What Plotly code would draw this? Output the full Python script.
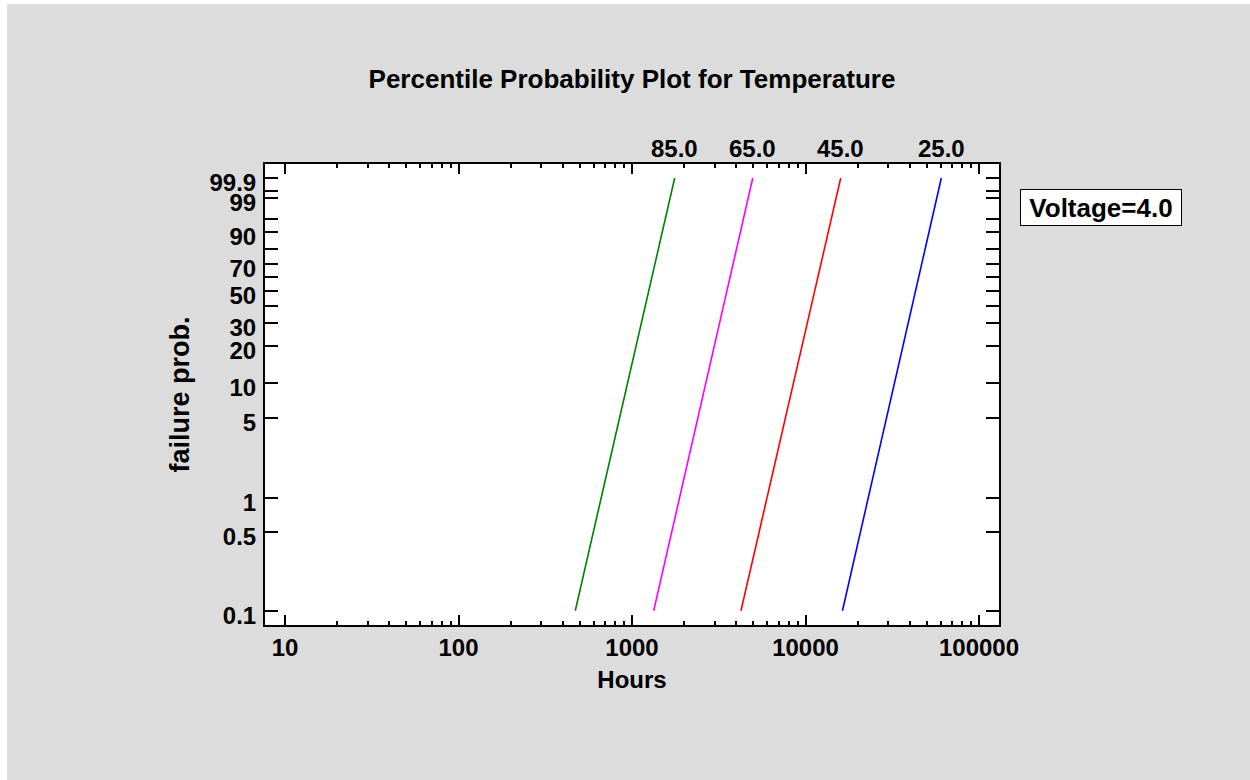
import numpy as np
import plotly.graph_objects as go

# ---- data ----
temperatures = ["85.0", "65.0", "45.0", "25.0"]
line_colors = ["#008000", "#ff00ff", "#ff0000", "#0000ff"]
prob_ends = [0.1, 99.9]                 # failure probability (%) at line ends
hours_low = [471, 1334, 4247, 16330]    # hours at 0.1 %
hours_high = [1762, 4966, 15960, 60670] # hours at 99.9 %

y_labeled = [0.1, 0.5, 1, 5, 10, 20, 30, 50, 70, 90, 99, 99.9]
y_unlabeled = [40, 60, 80, 95, 99.5]
x_major = [10, 100, 1000, 10000, 100000]
x_major_text = ["10", "100", "1000", "10000", "100000"]


def weib(p):
    p = np.asarray(p, dtype=float) / 100.0
    return np.log(-np.log(1.0 - p))


FONT = "Liberation Sans, Arial, sans-serif"
fig = go.Figure()

for t, c, lo, hi in zip(temperatures, line_colors, hours_low, hours_high):
    fig.add_trace(go.Scatter(x=[lo, hi], y=weib(prob_ends), mode="lines",
                             line=dict(color=c, width=1.6), name=t,
                             showlegend=False, hoverinfo="skip"))
    fig.add_annotation(x=np.log10(hi), y=1.0, xref="x", yref="paper",
                       text=t, showarrow=False, yanchor="bottom",
                       xanchor="center", yshift=0,
                       font=dict(family=FONT, size=24, color="black", weight="bold"))

y_ticks = sorted(y_labeled + y_unlabeled)
y_text = [("%g" % v if v in y_labeled else "") for v in y_ticks]

x_minor = []
for d in [10, 100, 1000, 10000]:
    x_minor += [d * k for k in range(2, 10)]

fig.update_xaxes(type="log", range=[0.8847, 5.1153],
                 tickmode="array", tickvals=x_major, ticktext=x_major_text,
                 ticks="inside", ticklen=10, tickwidth=2, tickcolor="black",
                 showline=True, linecolor="black", linewidth=2, mirror="ticks",
                 showgrid=False, zeroline=False,
                 minor=dict(tickmode="array", tickvals=x_minor, ticks="inside",
                            ticklen=4, tickwidth=2, tickcolor="black", showgrid=False),
                 tickfont=dict(family=FONT, size=24, color="black", weight="bold"),
                 title=dict(text="Hours", standoff=11,
                            font=dict(family=FONT, size=24, color="black", weight="bold")))

fig.update_yaxes(range=[-7.199, 2.219],
                 tickmode="array", tickvals=list(weib(y_ticks)), ticktext=y_text,
                 ticks="inside", ticklen=13, tickwidth=2, tickcolor="black",
                 showline=True, linecolor="black", linewidth=2, mirror="ticks",
                 showgrid=False, zeroline=False, ticklabelshift=5,
                 ticklabelstandoff=2,
                 tickfont=dict(family=FONT, size=24, color="black", weight="bold"),
                 title=dict(text="failure prob.", standoff=12,
                            font=dict(family=FONT, size=27, color="black", weight="bold")))

fig.add_annotation(x=1.1390, y=0.9056, xref="paper", yref="paper",
                   text="Voltage=4.0", showarrow=False,
                   xanchor="center", yanchor="middle",
                   width=160, height=35, borderpad=0, borderwidth=1,
                   bordercolor="black", bgcolor="white",
                   font=dict(family=FONT, size=26, color="black", weight="bold"))

# thin white strips at the top and left edge of the picture
fig.add_shape(type="rect", xref="paper", yref="paper", layer="above",
              x0=-0.362, x1=(7 - 265) / 734, y0=-0.34, y1=1.36,
              fillcolor="white", line=dict(width=0))
fig.add_shape(type="rect", xref="paper", yref="paper", layer="above",
              x0=-0.362, x1=1.36, y0=(625 - 4) / 461, y1=1.36,
              fillcolor="white", line=dict(width=0))

fig.update_layout(
    width=1250, height=780, autosize=False,
    margin=dict(l=265, r=251, t=164, b=155),
    paper_bgcolor="#dcdcdc", plot_bgcolor="white",
    title=dict(text="Percentile Probability Plot for Temperature",
               x=0.5, xref="paper", xanchor="center",
               y=1 - 79 / 780, yref="container", yanchor="middle",
               font=dict(family=FONT, size=26, color="black", weight="bold")),
)

fig.write_html("out.html")
